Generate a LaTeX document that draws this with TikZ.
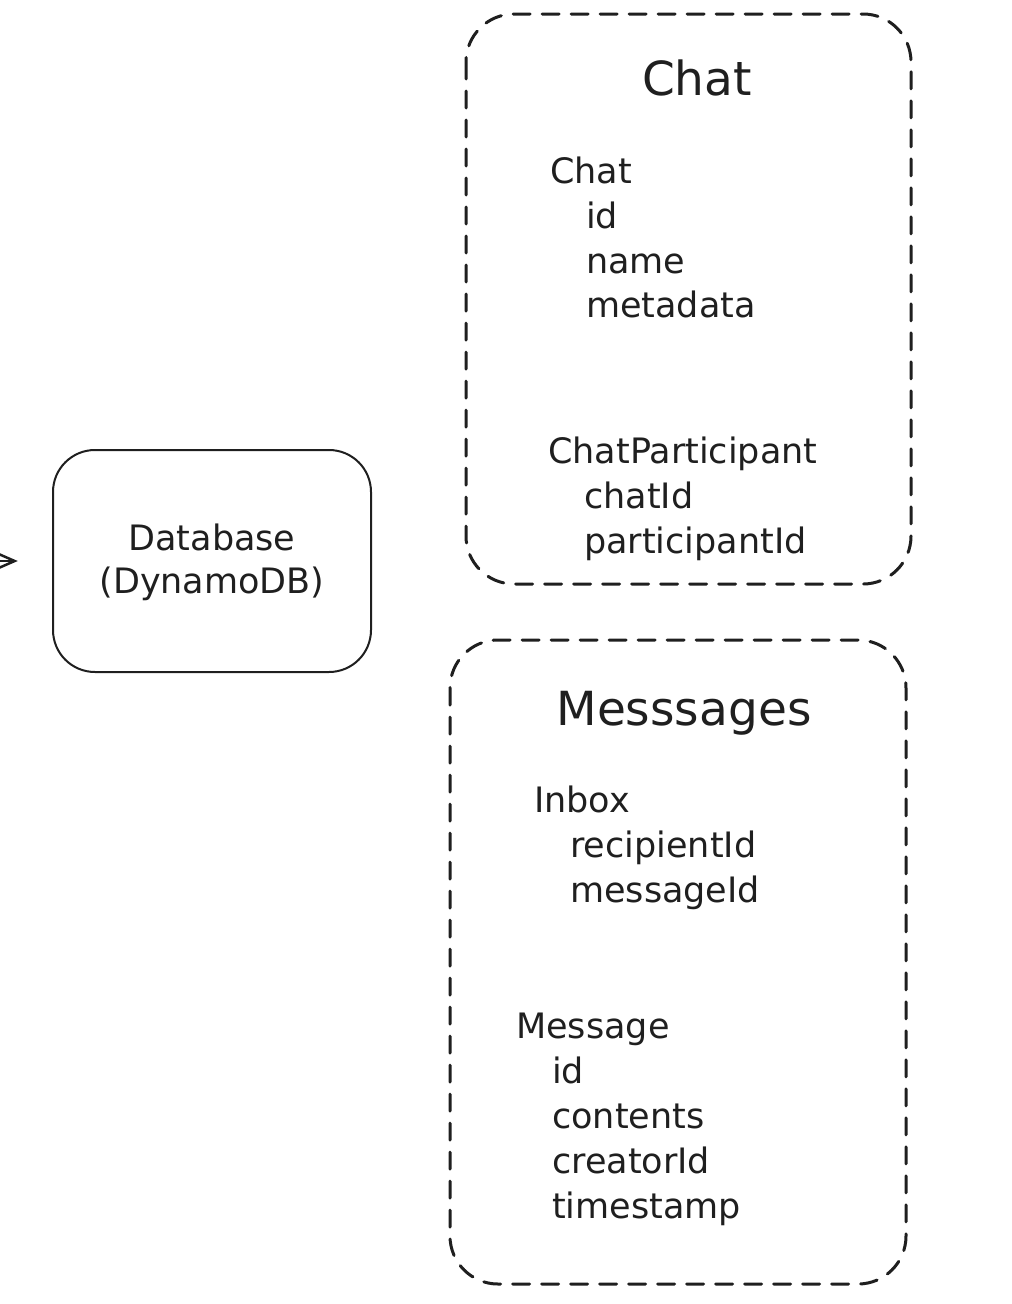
\documentclass[tikz,border=0pt]{standalone}
\usepackage{fontspec}
\setmainfont{DejaVu Sans}
\usetikzlibrary{arrows.meta}
\begin{document}
\begin{tikzpicture}[x=1pt,y=-1pt,
  group/.style={draw=black!88, line width=3pt, dash pattern=on 17pt off 12pt, rounded corners=48pt, line cap=round},
  dbbox/.style={draw=black!88, line width=2pt, rounded corners=42pt},
  title/.style={anchor=base, font=\fontsize{47}{50}\selectfont, text=black!88, inner sep=0pt},
  item/.style={anchor=base west, font=\fontsize{35}{40}\selectfont, text=black!88, inner sep=0pt},
  conn/.style={draw=black!88, line width=2.5pt, -{Straight Barb[length=16pt,width=14pt,line width=2.5pt]}}
]
\useasboundingbox (0,0) rectangle (1012,1304);
% database
\draw[dbbox] (53,450) rectangle (371,672);
\node[inner sep=0pt, minimum width=318pt, minimum height=222pt] (db) at (212,561) {};
\node[anchor=base, font=\fontsize{35}{40}\selectfont, text=black!88, inner sep=0pt] (dbl1) at (212,550) {Database};
\node[anchor=base, font=\fontsize{35}{40}\selectfont, text=black!88, inner sep=0pt] (dbl2) at (212,593) {(DynamoDB)};
\coordinate (src) at (-10,561);
\draw[conn, shorten >=35pt] (src) -- (db.west);
% chat group
\draw[group] (466,14) rectangle (911,584);
\node[title] (chatT) at (697,95) {Chat};
\node[item] (c1) at (550,183) {Chat};
\node[item] (c2) at (586,228) {id};
\node[item] (c3) at (586,273) {name};
\node[item] (c4) at (586,317) {metadata};
\node[item] (c5) at (548,463) {ChatParticipant};
\node[item] (c6) at (584,508) {chatId};
\node[item] (c7) at (584,553) {participantId};
% messages group
\draw[group] (450,640) rectangle (906,1284);
\node[title] (msgT) at (684,725) {Messsages};
\node[item] (m1) at (534,812) {Inbox};
\node[item] (m2) at (570,857) {recipientId};
\node[item] (m3) at (570,902) {messageId};
\node[item] (m4) at (516,1038) {Message};
\node[item] (m5) at (552,1083) {id};
\node[item] (m6) at (552,1128) {contents};
\node[item] (m7) at (552,1173) {creatorId};
\node[item] (m8) at (552,1218) {timestamp};
\end{tikzpicture}
\end{document}
